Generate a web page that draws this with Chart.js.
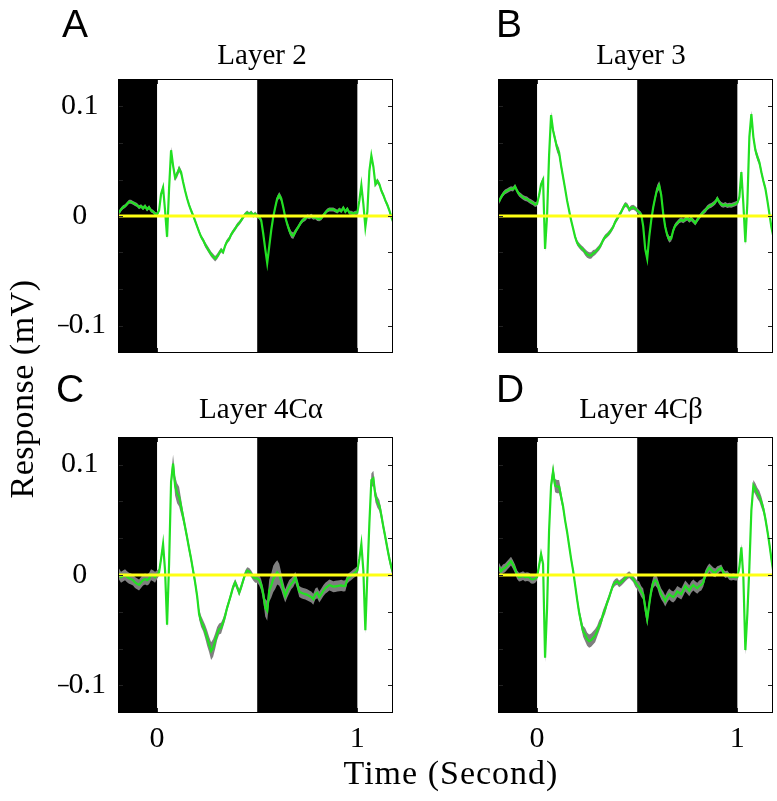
<!DOCTYPE html>
<html>
<head>
<meta charset="utf-8">
<script src="https://cdn.jsdelivr.net/npm/chart.js@4.4.0/dist/chart.umd.min.js"></script>
<style>
  html, body { margin: 0; padding: 0; background: #fff; }
  #page { position: relative; width: 777px; height: 801px; overflow: hidden; }
  #page canvas { position: absolute; left: 0; top: 0; }
  .txt { position: absolute; white-space: nowrap; color: #000; }
  .serif { font-family: "Liberation Serif", "Times New Roman", serif; }
  .sans { font-family: "Liberation Sans", Arial, sans-serif; }
  .letter { font-size: 39px; line-height: 39px; }
  .title { font-size: 29px; line-height: 29px; width: 300px; text-align: center; }
  .axis { font-size: 34px; line-height: 34px; text-align: center; }
</style>
</head>
<body>
<div id="page">
  <canvas id="chartA" width="777" height="801"></canvas>
  <canvas id="chartB" width="777" height="801"></canvas>
  <canvas id="chartC" width="777" height="801"></canvas>
  <canvas id="chartD" width="777" height="801"></canvas>

  <div class="txt sans letter" style="left:62px; top:4px">A</div>
  <div class="txt sans letter" style="left:496px; top:4px">B</div>
  <div class="txt sans letter" style="left:56px; top:369px">C</div>
  <div class="txt sans letter" style="left:496px; top:369px">D</div>

  <div class="txt serif title" style="left:112px; top:40px">Layer 2</div>
  <div class="txt serif title" style="left:491px; top:40px">Layer 3</div>
  <div class="txt serif title" style="left:111px; top:394px">Layer 4Cα</div>
  <div class="txt serif title" style="left:491px; top:394px">Layer 4Cβ</div>

  <div class="txt serif axis" style="left:251px; top:756px; width:400px; letter-spacing:1px">Time (Second)</div>
  <div class="txt serif axis" style="left:-128px; top:372px; width:300px; letter-spacing:0.5px; transform:rotate(-90deg)">Response (mV)</div>
</div>

<script>
// sample times (s)
const times = [
  -0.19, -0.18, -0.17, -0.16, -0.15, -0.14, -0.13, -0.12, -0.11, -0.10,
  -0.09, -0.08, -0.07, -0.06, -0.05, -0.04, -0.03, -0.02, -0.01, 0.00,
  0.01, 0.02, 0.03, 0.04, 0.05, 0.06, 0.07, 0.08, 0.09, 0.10,
  0.11, 0.12, 0.13, 0.14, 0.15, 0.16, 0.17, 0.18, 0.19, 0.20,
  0.21, 0.22, 0.23, 0.24, 0.25, 0.26, 0.27, 0.28, 0.29, 0.30,
  0.31, 0.32, 0.33, 0.34, 0.35, 0.36, 0.37, 0.38, 0.39, 0.40,
  0.41, 0.42, 0.43, 0.44, 0.45, 0.46, 0.47, 0.48, 0.49, 0.50,
  0.51, 0.52, 0.53, 0.54, 0.55, 0.56, 0.57, 0.58, 0.59, 0.60,
  0.61, 0.62, 0.63, 0.64, 0.65, 0.66, 0.67, 0.68, 0.69, 0.70,
  0.71, 0.72, 0.73, 0.74, 0.75, 0.76, 0.77, 0.78, 0.79, 0.80,
  0.81, 0.82, 0.83, 0.84, 0.85, 0.86, 0.87, 0.88, 0.89, 0.90,
  0.91, 0.92, 0.93, 0.94, 0.95, 0.96, 0.97, 0.98, 0.99, 1.00,
  1.01, 1.02, 1.03, 1.04, 1.05, 1.06, 1.07, 1.08, 1.09, 1.10,
  1.11, 1.12, 1.13, 1.14, 1.15, 1.16, 1.17, 1.18
];

// mean response (mV) per layer
const layer2 = [
  0.003, 0.006, 0.008, 0.009, 0.011, 0.013, 0.013, 0.012, 0.011, 0.010,
  0.008, 0.009, 0.007, 0.009, 0.006, 0.008, 0.005, 0.004, 0.002, 0.0015,
  0.005, 0.020, 0.026, 0.005, -0.019, 0.025, 0.060, 0.046, 0.035, 0.038,
  0.043, 0.040, 0.031, 0.023, 0.016, 0.010, 0.005, 0.0005, -0.0045, -0.0095,
  -0.0145, -0.019, -0.022, -0.026, -0.029, -0.032, -0.035, -0.037, -0.039, -0.037,
  -0.034, -0.031, -0.033, -0.027, -0.023, -0.021, -0.017, -0.014, -0.0115, -0.0085,
  -0.0065, -0.004, -0.001, 0.0015, 0.003, 0.0015, 0.003, 0.0005, 0.002, 0,
  -0.001, -0.004, -0.016, -0.030, -0.043, -0.028, -0.013, -0.001, 0.008, 0.016,
  0.019, 0.016, 0.008, -0.001, -0.0075, -0.013, -0.017, -0.018, -0.0145, -0.0115,
  -0.0085, -0.0055, -0.0035, -0.0025, -0.0003, -0.001, 0, -0.0015, -0.001, -0.0025,
  -0.003, -0.002, 0.0005, 0.003, 0.005, 0.006, 0.006, 0.006, 0.005, 0.004,
  0.006, 0.0045, 0.0075, 0.004, 0.0065, 0.003, 0.003, 0.002, 0.003, 0.003,
  0.014, 0.028, 0.011, -0.010, 0.004, 0.041, 0.055, 0.045, 0.029, 0.032,
  0.029, 0.023, 0.019, 0.014, 0.010, 0.005, -0.001, -0.006
];
const layer3 = [
  0.013, 0.017, 0.020, 0.022, 0.023, 0.024, 0.025, 0.0245, 0.027, 0.023,
  0.020, 0.0185, 0.017, 0.016, 0.0155, 0.014, 0.013, 0.012, 0.0105, 0.011,
  0.019, 0.029, 0.033, -0.030, 0.0, 0.055, 0.092, 0.078, 0.070, 0.062,
  0.058, 0.046, 0.0355, 0.025, 0.014, 0.005, -0.004, -0.0115, -0.019, -0.0245,
  -0.027, -0.029, -0.0305, -0.033, -0.035, -0.036, -0.036, -0.034, -0.033, -0.031,
  -0.029, -0.026, -0.022, -0.019, -0.0175, -0.0155, -0.013, -0.010, -0.0055, -0.0025,
  0.0006, 0.0036, 0.0075, 0.0105, 0.0097, 0.0058, 0.0075, 0.008, 0.007, 0.005,
  0.0033, 0.0015, -0.0095, -0.030, -0.039, -0.019, -0.004, 0.008, 0.017, 0.025,
  0.028, 0.019, 0.002, -0.010, -0.0175, -0.0215, -0.0205, -0.013, -0.0085, -0.0065,
  -0.0045, -0.0035, -0.0045, -0.003, -0.002, -0.004, -0.0025, -0.0045, -0.0065, -0.0035,
  -0.001, 0.0015, 0.0036, 0.005, 0.0075, 0.009, 0.0097, 0.011, 0.0127, 0.016,
  0.0127, 0.0105, 0.0097, 0.0105, 0.0094, 0.010, 0.0097, 0.0103, 0.011, 0.012,
  0.017, 0.040, 0.011, -0.024, 0.012, 0.072, 0.093, 0.072, 0.060, 0.054,
  0.049, 0.040, 0.032, 0.025, 0.014, 0.002, -0.010, -0.019
];
const layer4Ca = [
  0.001, -0.002, -0.001, 0.0003, -0.0015, -0.003, -0.0036, -0.0046, -0.0067, -0.008,
  -0.009, -0.0067, -0.0046, -0.0036, -0.0046, -0.0033, 0.0003, -0.0006, -0.002, 0.0003,
  0.0024, 0.0146, 0.028, 0.004, -0.045, 0.010, 0.0845, 0.101, 0.081, 0.074,
  0.071, 0.062, 0.053, 0.0435, 0.034, 0.024, 0.0146, 0.004, -0.0067, -0.019,
  -0.0355, -0.042, -0.046, -0.051, -0.057, -0.063, -0.069, -0.066, -0.060, -0.053,
  -0.049, -0.048, -0.043, -0.037, -0.0295, -0.0235, -0.0173, -0.0106, -0.0067, -0.011,
  -0.016, -0.011, -0.005, 0.001, 0.004, 0.0033, 0.001, -0.002, -0.003, -0.003,
  -0.0046, -0.009, -0.0173, -0.0295, -0.0325, -0.0143, -0.0097, -0.0036, -0.0006, 0.0024,
  0.0003, -0.0058, -0.0128, -0.019, -0.0143, -0.0106, -0.008, -0.0058, -0.002, -0.008,
  -0.015, -0.016, -0.0167, -0.0173, -0.018, -0.019, -0.020, -0.022, -0.0173, -0.016,
  -0.020, -0.0173, -0.0143, -0.012, -0.0106, -0.009, -0.0097, -0.0106, -0.0103, -0.010,
  -0.0097, -0.0094, -0.010, -0.0097, -0.0036, -0.002, -0.0006, 0.001, 0.0024, 0.004,
  0.0146, 0.028, 0.004, -0.050, 0.0, 0.0465, 0.086, 0.0875, 0.072, 0.066,
  0.063, 0.054, 0.0435, 0.034, 0.024, 0.0146, 0.007, 0.001
];
const layer4Cb = [
  0.007, 0.0033, 0.0055, 0.0064, 0.0085, 0.0106, 0.0125, 0.0094, 0.0055, 0.0003,
  -0.002, -0.0015, -0.0006, -0.002, -0.0015, -0.002, -0.0036, -0.004, -0.0033, -0.002,
  0.0085, 0.019, 0.010, -0.075, -0.030, 0.040, 0.081, 0.094, 0.081, 0.080,
  0.080, 0.071, 0.062, 0.0495, 0.039, 0.0267, 0.0146, 0.004, -0.009, -0.022,
  -0.034, -0.043, -0.051, -0.054, -0.058, -0.060, -0.059, -0.057, -0.055, -0.051,
  -0.046, -0.042, -0.0355, -0.031, -0.025, -0.020, -0.0143, -0.009, -0.0067, -0.0058,
  -0.008, -0.0067, -0.005, -0.003, -0.001, 0.0003, -0.0015, -0.0036, -0.0067, -0.009,
  -0.011, -0.015, -0.0173, -0.0295, -0.040, -0.0265, -0.0143, -0.0067, -0.0046, -0.0067,
  -0.0128, -0.0173, -0.020, -0.0235, -0.020, -0.0173, -0.019, -0.020, -0.018, -0.015,
  -0.016, -0.0173, -0.0137, -0.010, -0.012, -0.0143, -0.011, -0.009, -0.0106, -0.012,
  -0.010, -0.009, -0.0067, 0.0003, 0.004, 0.0064, 0.0046, 0.0027, 0.002, 0.004,
  0.0055, 0.0064, 0.0024, 0.0003, 0.001, -0.0015, -0.002, -0.0015, -0.002, -0.002,
  0.007, 0.025, -0.002, -0.068, -0.035, 0.007, 0.0587, 0.081, 0.078, 0.074,
  0.0714, 0.066, 0.060, 0.051, 0.040, 0.028, 0.0146, 0.0024
];

// standard error (mV), drawn as the grey band
const sem2 = [
  0.0018, 0.0018, 0.0018, 0.0018, 0.0018, 0.0018, 0.0018, 0.0018, 0.0018, 0.0018,
  0.0018, 0.0018, 0.0018, 0.0018, 0.0018, 0.0018, 0.0018, 0.0018, 0.0018, 0.0018,
  0.002, 0.002, 0.002, 0.002, 0.0025, 0.0025, 0.003, 0.003, 0.003, 0.003,
  0.003, 0.0025, 0.002, 0.002, 0.002, 0.002, 0.002, 0.002, 0.002, 0.002,
  0.002, 0.002, 0.002, 0.0025, 0.0025, 0.0025, 0.0025, 0.0025, 0.0025, 0.0025,
  0.0025, 0.002, 0.002, 0.002, 0.002, 0.002, 0.002, 0.002, 0.002, 0.002,
  0.002, 0.002, 0.002, 0.002, 0.002, 0.002, 0.002, 0.002, 0.002, 0.002,
  0.002, 0.002, 0.002, 0.002, 0.002, 0.002, 0.002, 0.002, 0.002, 0.0025,
  0.003, 0.0025, 0.002, 0.002, 0.0025, 0.003, 0.003, 0.003, 0.0025, 0.002,
  0.002, 0.002, 0.002, 0.002, 0.002, 0.002, 0.002, 0.002, 0.002, 0.002,
  0.0018, 0.0018, 0.0018, 0.0018, 0.0018, 0.0018, 0.0018, 0.0018, 0.0018, 0.0018,
  0.0018, 0.0018, 0.0018, 0.0018, 0.0018, 0.0018, 0.0018, 0.0018, 0.0018, 0.0018,
  0.002, 0.002, 0.002, 0.002, 0.002, 0.002, 0.0025, 0.0025, 0.0025, 0.0025,
  0.002, 0.002, 0.002, 0.002, 0.002, 0.002, 0.002, 0.002
];
const sem3 = [
  0.0022, 0.0022, 0.0022, 0.0022, 0.0022, 0.0022, 0.0022, 0.0022, 0.0022, 0.0022,
  0.0022, 0.0022, 0.0022, 0.0022, 0.0022, 0.0022, 0.0022, 0.0022, 0.0022, 0.0022,
  0.0022, 0.0022, 0.0025, 0.0025, 0.0025, 0.003, 0.003, 0.003, 0.0035, 0.004,
  0.004, 0.0035, 0.003, 0.0025, 0.0022, 0.0022, 0.0022, 0.0022, 0.0022, 0.0025,
  0.0025, 0.0025, 0.0025, 0.003, 0.003, 0.003, 0.003, 0.003, 0.0025, 0.0025,
  0.0025, 0.0025, 0.0022, 0.0022, 0.0022, 0.0022, 0.0022, 0.0022, 0.0022, 0.0022,
  0.0022, 0.0022, 0.0022, 0.0022, 0.0022, 0.0022, 0.0022, 0.0022, 0.0022, 0.0022,
  0.0022, 0.0022, 0.0022, 0.0025, 0.0025, 0.0025, 0.0025, 0.003, 0.003, 0.0035,
  0.004, 0.0035, 0.003, 0.003, 0.003, 0.003, 0.0025, 0.0025, 0.0022, 0.0022,
  0.0022, 0.0022, 0.0022, 0.0022, 0.0022, 0.0022, 0.0022, 0.0022, 0.0022, 0.0022,
  0.0022, 0.0022, 0.0022, 0.0022, 0.0022, 0.0022, 0.0022, 0.0022, 0.0022, 0.0022,
  0.0022, 0.0022, 0.0022, 0.0022, 0.0022, 0.0022, 0.0022, 0.0022, 0.0022, 0.0022,
  0.0022, 0.0025, 0.0025, 0.0025, 0.0025, 0.003, 0.003, 0.003, 0.0035, 0.0035,
  0.003, 0.003, 0.0025, 0.0025, 0.0025, 0.0025, 0.0025, 0.0025
];
const sem4Ca = [
  0.005, 0.005, 0.005, 0.005, 0.005, 0.005, 0.005, 0.005, 0.005, 0.005,
  0.005, 0.005, 0.005, 0.005, 0.005, 0.005, 0.005, 0.005, 0.005, 0.004,
  0.003, 0.003, 0.003, 0.003, 0.003, 0.004, 0.006, 0.008, 0.009, 0.009,
  0.009, 0.007, 0.005, 0.004, 0.004, 0.004, 0.004, 0.004, 0.004, 0.004,
  0.005, 0.005, 0.005, 0.006, 0.007, 0.007, 0.008, 0.008, 0.007, 0.006,
  0.005, 0.005, 0.004, 0.004, 0.003, 0.003, 0.003, 0.003, 0.003, 0.003,
  0.003, 0.003, 0.003, 0.003, 0.003, 0.003, 0.003, 0.003, 0.004, 0.004,
  0.005, 0.005, 0.006, 0.008, 0.009, 0.010, 0.011, 0.012, 0.012, 0.011,
  0.010, 0.008, 0.007, 0.006, 0.006, 0.006, 0.005, 0.005, 0.005, 0.005,
  0.005, 0.005, 0.005, 0.005, 0.005, 0.005, 0.005, 0.005, 0.005, 0.005,
  0.005, 0.005, 0.005, 0.005, 0.005, 0.005, 0.005, 0.005, 0.005, 0.005,
  0.005, 0.005, 0.005, 0.005, 0.004, 0.004, 0.004, 0.004, 0.004, 0.004,
  0.003, 0.003, 0.003, 0.003, 0.003, 0.004, 0.006, 0.007, 0.006, 0.005,
  0.005, 0.005, 0.004, 0.004, 0.004, 0.004, 0.004, 0.004
];
const sem4Cb = [
  0.004, 0.004, 0.004, 0.004, 0.004, 0.004, 0.004, 0.004, 0.004, 0.004,
  0.004, 0.004, 0.004, 0.004, 0.004, 0.004, 0.004, 0.004, 0.004, 0.003,
  0.003, 0.003, 0.003, 0.004, 0.004, 0.004, 0.005, 0.006, 0.006, 0.006,
  0.006, 0.005, 0.004, 0.003, 0.003, 0.003, 0.003, 0.003, 0.003, 0.004,
  0.004, 0.005, 0.005, 0.006, 0.006, 0.006, 0.006, 0.006, 0.006, 0.005,
  0.005, 0.004, 0.004, 0.004, 0.003, 0.003, 0.003, 0.003, 0.003, 0.003,
  0.003, 0.003, 0.003, 0.003, 0.003, 0.003, 0.003, 0.003, 0.004, 0.004,
  0.005, 0.005, 0.005, 0.006, 0.006, 0.005, 0.005, 0.005, 0.005, 0.005,
  0.005, 0.005, 0.005, 0.005, 0.005, 0.005, 0.005, 0.005, 0.005, 0.005,
  0.005, 0.005, 0.005, 0.005, 0.005, 0.005, 0.005, 0.005, 0.005, 0.005,
  0.005, 0.005, 0.004, 0.004, 0.004, 0.004, 0.004, 0.004, 0.004, 0.004,
  0.003, 0.003, 0.003, 0.003, 0.003, 0.003, 0.003, 0.003, 0.003, 0.003,
  0.003, 0.003, 0.003, 0.004, 0.004, 0.004, 0.004, 0.005, 0.005, 0.005,
  0.005, 0.005, 0.004, 0.004, 0.004, 0.004, 0.004, 0.004
];

// dark (stimulus) periods, axis limits, ticks
const darkPeriods = [[-0.2, 0], [0.5, 1.0]];
const xMin = -0.195, xMax = 1.178;
const yMin = -0.125, yMax = 0.125;
const xTickValues = [0, 1];
const xTickLabels = ['0', '1'];
const yTickValues = [-0.1, -0.0667, -0.0333, 0, 0.0333, 0.0667, 0.1];
const yTickLabels = ['\u20130.1', '', '', '0', '', '', '0.1'];

const green = '#22e022';
const bandColor = '#7f7f7f';
const zeroColor = '#ffff14';
const tickFont = { family: '"Liberation Serif", "Times New Roman", serif', size: 30 };

const panelDecor = {
  id: 'panelDecor',
  beforeDatasetsDraw(chart) {
    const { ctx, chartArea: a, scales: { x } } = chart;
    ctx.save();
    ctx.fillStyle = '#000';
    darkPeriods.forEach(([s, e]) => {
      const x0 = Math.max(a.left, x.getPixelForValue(s));
      const x1 = Math.min(a.right, x.getPixelForValue(e));
      if (x1 > x0) ctx.fillRect(x0, a.top, x1 - x0, a.bottom - a.top);
    });
    ctx.restore();
  },
  afterDatasetsDraw(chart) {
    const { ctx, chartArea: a, scales: { x, y } } = chart;
    ctx.save();
    ctx.strokeStyle = '#222';
    ctx.lineWidth = 1;
    ctx.beginPath();
    yTickValues.forEach(v => {
      const py = Math.round(y.getPixelForValue(v)) + 0.5;
      ctx.moveTo(a.left, py); ctx.lineTo(a.left + 5, py);
      ctx.moveTo(a.right, py); ctx.lineTo(a.right - 5, py);
    });
    xTickValues.forEach(v => {
      const px = Math.round(x.getPixelForValue(v)) + 0.5;
      ctx.moveTo(px, a.top); ctx.lineTo(px, a.top + 5);
      ctx.moveTo(px, a.bottom); ctx.lineTo(px, a.bottom - 5);
    });
    ctx.stroke();
    ctx.strokeStyle = '#000';
    ctx.strokeRect(Math.round(a.left) + 0.5, Math.round(a.top) + 0.5,
      Math.round(a.right - a.left) - 1, Math.round(a.bottom - a.top) - 1);
    ctx.restore();
  }
};

function makePanel(id, mean, sem, pad, showX, showY) {
  const pts = arr => times.map((t, i) => ({ x: t, y: arr[i] }));
  const upper = mean.map((v, i) => v + sem[i]);
  const lower = mean.map((v, i) => v - sem[i]);

  new Chart(document.getElementById(id), {
    type: 'line',
    data: {
      datasets: [
        { data: pts(upper), order: 3, borderWidth: 0, borderColor: 'rgba(0,0,0,0)', backgroundColor: bandColor, pointRadius: 0, fill: '+1' },
        { data: pts(lower), order: 4, borderWidth: 0, borderColor: 'rgba(0,0,0,0)', pointRadius: 0, fill: false },
        { data: pts(mean), order: 1, borderColor: green, borderWidth: 2.2, pointRadius: 0, fill: false },
        { data: [{ x: xMin, y: 0 }, { x: xMax, y: 0 }], order: 0, borderColor: zeroColor, borderWidth: 3, pointRadius: 0, fill: false }
      ]
    },
    options: {
      responsive: false,
      animation: false,
      devicePixelRatio: 1,
      layout: { padding: pad },
      elements: { line: { tension: 0 } },
      plugins: { legend: { display: false }, tooltip: { enabled: false } },
      scales: {
        x: {
          type: 'linear', min: xMin, max: xMax, display: showX,
          grid: { display: false, drawTicks: false }, border: { display: false },
          afterBuildTicks: s => { s.ticks = xTickValues.map(v => ({ value: v })); },
          afterFit: s => { s.height = showX ? 40 : 0; },
          ticks: { font: tickFont, color: '#000', padding: 8, maxRotation: 0, autoSkip: false,
                   callback: (v, i) => xTickLabels[i] }
        },
        y: {
          type: 'linear', min: yMin, max: yMax, display: showY,
          grid: { display: false, drawTicks: false }, border: { display: false },
          afterBuildTicks: s => { s.ticks = yTickValues.map(v => ({ value: v })); },
          afterFit: s => { s.width = showY ? 60 : 0; },
          ticks: { font: tickFont, color: '#000', padding: 12, crossAlign: 'center', autoSkip: false,
                   callback: (v, i) => yTickLabels[i] }
        }
      }
    },
    plugins: [panelDecor]
  });
}

makePanel('chartA', layer2, sem2, { left: 58, top: 79, right: 384, bottom: 448 }, false, true);
makePanel('chartB', layer3, sem3, { left: 498, top: 79, right: 4, bottom: 448 }, false, false);
makePanel('chartC', layer4Ca, sem4Ca, { left: 58, top: 437, right: 384, bottom: 48 }, true, true);
makePanel('chartD', layer4Cb, sem4Cb, { left: 498, top: 437, right: 4, bottom: 48 }, true, false);
</script>
</body>
</html>
